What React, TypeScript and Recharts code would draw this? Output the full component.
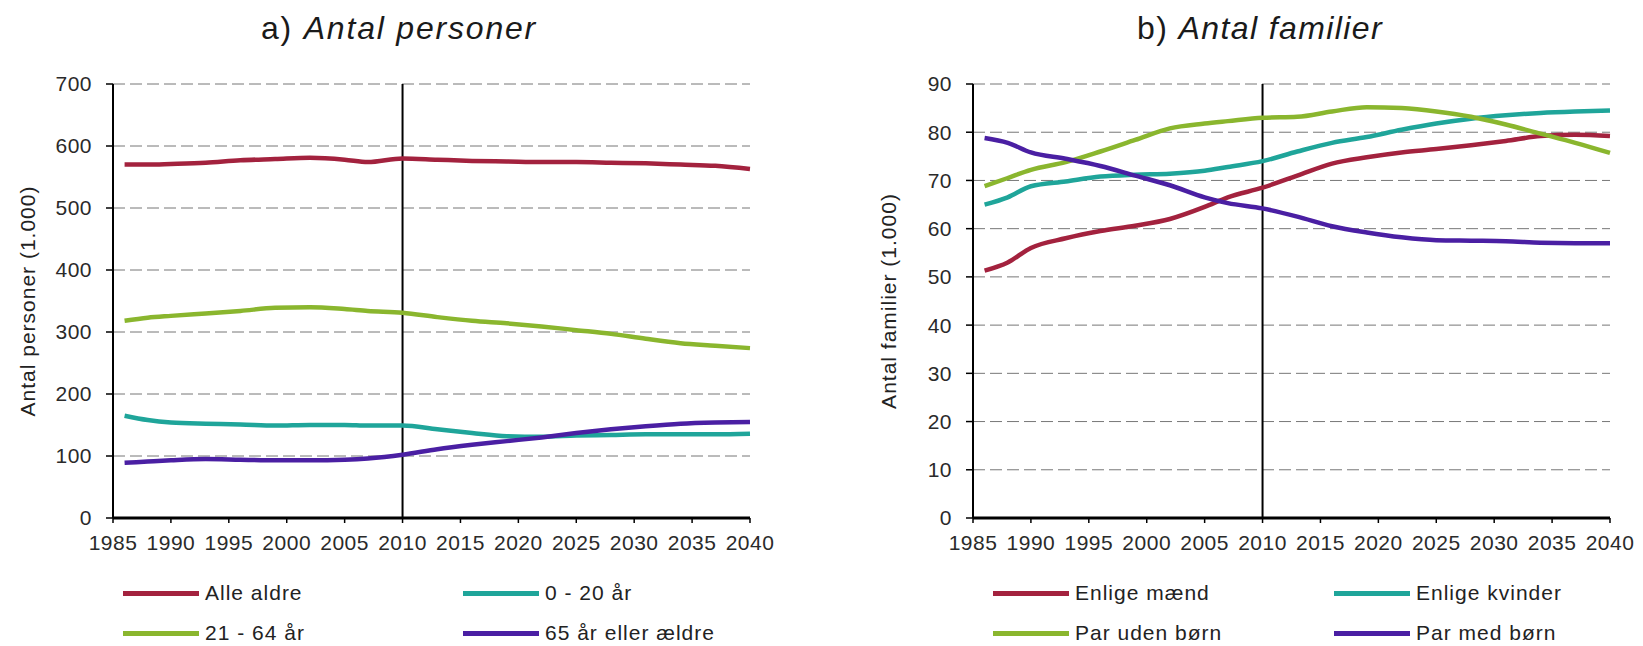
import React from "react";
import { CartesianGrid, Line, LineChart, ReferenceLine, XAxis, YAxis } from "recharts";

// observation / projection years (2010 is the split)
const years = [1986, 1988, 1990, 1993, 1996, 1999, 2002, 2005, 2007, 2010, 2013, 2016, 2019, 2022, 2025, 2028, 2031, 2034, 2037, 2040];
const xTicks = [1985, 1990, 1995, 2000, 2005, 2010, 2015, 2020, 2025, 2030, 2035, 2040];

// a) persons, thousands
const alleAldre = [570, 570, 571, 573, 577, 579, 581, 578, 574, 580, 578, 576, 575, 574, 574, 573, 572, 570, 568, 563];
const aar0til20 = [165, 158, 154, 152, 151, 149, 150, 150, 149, 149, 143, 137, 132, 131, 133, 134, 135, 135, 135, 136];
const aar21til64 = [318, 323, 326, 330, 334, 339, 340, 337, 334, 331, 324, 318, 314, 309, 303, 297, 289, 282, 278, 274];
const aar65plus = [89, 91, 93, 95, 94, 93, 93, 94, 96, 102, 111, 118, 124, 130, 137, 143, 148, 152, 154, 155];
const personTicks = [0, 100, 200, 300, 400, 500, 600, 700];

// b) families, thousands
const enligeMaend = [51.3, 53, 56, 58, 59.5, 60.6, 62, 64.5, 66.5, 68.5, 71, 73.5, 74.8, 75.8, 76.5, 77.3, 78.2, 79.2, 79.5, 79.2];
const enligeKvinder = [65, 66.5, 68.8, 69.8, 70.8, 71.2, 71.4, 72, 72.8, 74, 76, 77.8, 79, 80.5, 81.8, 82.8, 83.5, 84, 84.3, 84.5];
const parUdenBoern = [68.8, 70.5, 72.2, 73.8, 76, 78.4, 80.8, 81.8, 82.3, 83, 83.2, 84.3, 85.2, 85, 84.3, 83.2, 81.6, 79.7, 77.8, 75.7];
const parMedBoern = [78.8, 77.8, 75.8, 74.5, 73, 71, 69, 66.5, 65.3, 64.2, 62.5, 60.5, 59.2, 58.2, 57.6, 57.5, 57.4, 57.1, 57, 57];
const familyTicks = [0, 10, 20, 30, 40, 50, 60, 70, 80, 90];

const RED = "#a3223e";
const TEAL = "#1fa59a";
const GREEN = "#8ab62e";
const PURPLE = "#4a1fa3";

type Series = { key: string; name: string; color: string; values: number[] };

const personSeries: Series[] = [
  { key: "alle", name: "Alle aldre", color: RED, values: alleAldre },
  { key: "unge", name: "0 - 20 år", color: TEAL, values: aar0til20 },
  { key: "voksne", name: "21 - 64 år", color: GREEN, values: aar21til64 },
  { key: "aeldre", name: "65 år eller ældre", color: PURPLE, values: aar65plus },
];

const familySeries: Series[] = [
  { key: "maend", name: "Enlige mænd", color: RED, values: enligeMaend },
  { key: "kvinder", name: "Enlige kvinder", color: TEAL, values: enligeKvinder },
  { key: "uden", name: "Par uden børn", color: GREEN, values: parUdenBoern },
  { key: "med", name: "Par med børn", color: PURPLE, values: parMedBoern },
];

function toRows(series: Series[]) {
  return years.map((year, i) => {
    const row: Record<string, number> = { year };
    series.forEach((s) => (row[s.key] = s.values[i]));
    return row;
  });
}

const tickStyle = { fontSize: 21, fill: "#2a2a2a", letterSpacing: 0.5 };

function Panel({ series, max, ticks }: { series: Series[]; max: number; ticks: number[] }) {
  return (
    <LineChart width={800} height={570} data={toRows(series)} margin={{ top: 84, right: 50, bottom: 12, left: 53 }}>
      <CartesianGrid vertical={false} stroke="#777" strokeDasharray="12 5" />
      <XAxis
        dataKey="year"
        type="number"
        domain={[1985, 2040]}
        ticks={xTicks}
        interval={0}
        height={40}
        tick={tickStyle}
        tickSize={5}
        tickMargin={12}
        axisLine={{ stroke: "#000", strokeWidth: 3 }}
        tickLine={{ stroke: "#000", strokeWidth: 1.5 }}
      />
      <YAxis
        type="number"
        domain={[0, max]}
        ticks={ticks}
        interval={0}
        width={60}
        tick={tickStyle}
        tickSize={7}
        tickMargin={14}
        axisLine={{ stroke: "#000", strokeWidth: 2 }}
        tickLine={{ stroke: "#000", strokeWidth: 1.5 }}
      />
      <ReferenceLine x={2010} stroke="#000" strokeWidth={2} />
      {series.map((s) => (
        <Line
          key={s.key}
          type="monotone"
          dataKey={s.key}
          name={s.name}
          stroke={s.color}
          strokeWidth={4.5}
          dot={false}
          isAnimationActive={false}
        />
      ))}
    </LineChart>
  );
}

function LegendItem({ s, x, y }: { s: Series; x: number; y: number }) {
  return (
    <div style={{ position: "absolute", left: x, top: y - 13, height: 26, display: "flex", alignItems: "center" }}>
      <div style={{ width: 76, height: 5, background: s.color, marginRight: 6 }} />
      <span style={{ fontSize: 21, color: "#222", letterSpacing: 1, whiteSpace: "nowrap" }}>{s.name}</span>
    </div>
  );
}

const titleStyle: React.CSSProperties = {
  position: "absolute",
  top: 10,
  width: 400,
  textAlign: "center",
  fontSize: 32,
  color: "#1a1a1a",
  whiteSpace: "nowrap",
};

const yLabelStyle: React.CSSProperties = {
  position: "absolute",
  width: 300,
  textAlign: "center",
  fontSize: 21,
  letterSpacing: 1,
  color: "#222",
  transform: "translate(-50%, -50%) rotate(-90deg)",
  whiteSpace: "nowrap",
};

export default function App() {
  return (
    <div
      style={{
        position: "absolute",
        left: 0,
        top: 0,
        width: 1643,
        height: 646,
        overflow: "hidden",
        background: "#fff",
        fontFamily: "'Liberation Sans', Arial, sans-serif",
      }}
    >
      <div style={{ ...titleStyle, left: 399 - 200, letterSpacing: 1.8 }}>
        a) <i>Antal personer</i>
      </div>
      <div style={{ ...titleStyle, left: 1260 - 200, letterSpacing: 1.4 }}>
        b) <i>Antal familier</i>
      </div>

      <div style={{ ...yLabelStyle, left: 28, top: 301 }}>Antal personer (1.000)</div>
      <div style={{ ...yLabelStyle, left: 889, top: 301 }}>Antal familier (1.000)</div>

      <div style={{ position: "absolute", left: 0, top: 0 }}>
        <Panel series={personSeries} max={700} ticks={personTicks} />
      </div>
      <div style={{ position: "absolute", left: 860, top: 0 }}>
        <Panel series={familySeries} max={90} ticks={familyTicks} />
      </div>

      <LegendItem s={personSeries[0]} x={123} y={593} />
      <LegendItem s={personSeries[1]} x={463} y={593} />
      <LegendItem s={personSeries[2]} x={123} y={633} />
      <LegendItem s={personSeries[3]} x={463} y={633} />

      <LegendItem s={familySeries[0]} x={993} y={593} />
      <LegendItem s={familySeries[1]} x={1334} y={593} />
      <LegendItem s={familySeries[2]} x={993} y={633} />
      <LegendItem s={familySeries[3]} x={1334} y={633} />
    </div>
  );
}
